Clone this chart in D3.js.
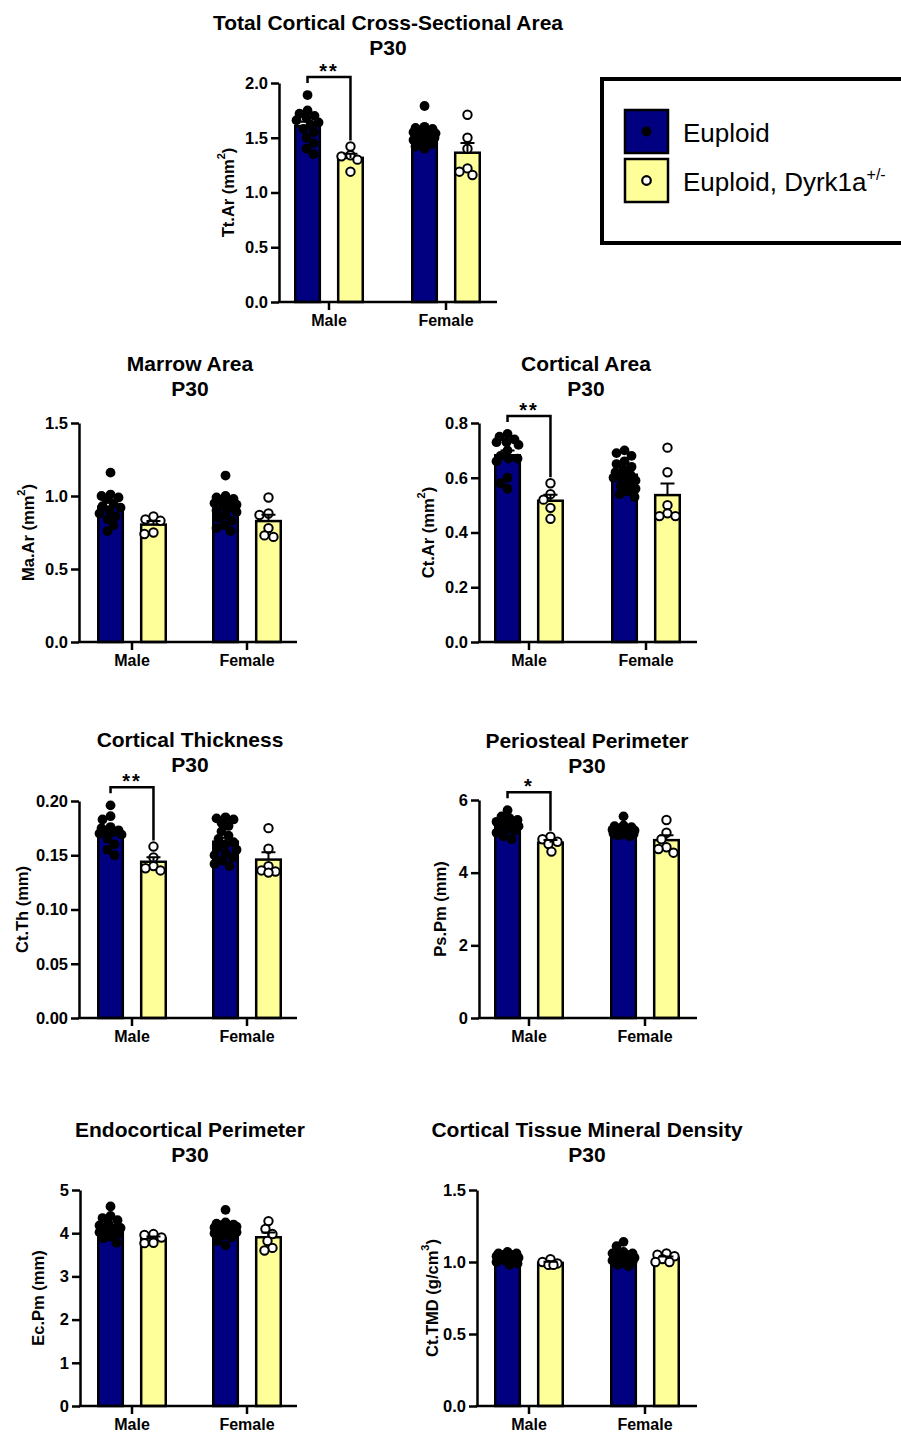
<!DOCTYPE html>
<html>
<head>
<meta charset="utf-8">
<script src="https://cdn.jsdelivr.net/npm/d3@7"></script>
<style>
  body { margin: 0; background: #fff; }
  svg { display: block; font-family: "Liberation Sans", Arial, sans-serif; }
</style>
</head>
<body>
<svg id="chart" width="901" height="1434"></svg>
<script>
const sexes = ['Male', 'Female'];
const genotypes = ['Euploid', 'Euploid, Dyrk1a'];

// Tt.Ar (mm2)
const ttArMaleEu = [1.89, 1.75, 1.72, 1.70, 1.68, 1.66, 1.64, 1.62, 1.58, 1.55, 1.50, 1.45, 1.40, 1.35];
const ttArMaleDyrk = [1.42, 1.34, 1.33, 1.30, 1.19];
const ttArFemaleEu = [1.79, 1.60, 1.59, 1.58, 1.57, 1.56, 1.55, 1.54, 1.53, 1.52, 1.51, 1.50, 1.49, 1.48, 1.46, 1.44, 1.42, 1.40];
const ttArFemaleDyrk = [1.71, 1.50, 1.40, 1.22, 1.19, 1.16];
const ttArTicks = [0, 0.5, 1.0, 1.5, 2.0];

// Ma.Ar (mm2)
const maArMaleEu = [1.16, 1.01, 1.00, 0.99, 0.98, 0.95, 0.93, 0.92, 0.90, 0.88, 0.86, 0.84, 0.80, 0.76];
const maArMaleDyrk = [0.86, 0.84, 0.83, 0.75, 0.74];
const maArFemaleEu = [1.14, 1.00, 0.99, 0.98, 0.97, 0.96, 0.95, 0.94, 0.93, 0.92, 0.90, 0.89, 0.87, 0.85, 0.83, 0.80, 0.78, 0.76];
const maArFemaleDyrk = [0.99, 0.88, 0.87, 0.78, 0.73, 0.72];
const maArTicks = [0, 0.5, 1.0, 1.5];

// Ct.Ar (mm2)
const ctArMaleEu = [0.76, 0.75, 0.74, 0.73, 0.73, 0.72, 0.70, 0.68, 0.67, 0.67, 0.66, 0.60, 0.58, 0.56];
const ctArMaleDyrk = [0.58, 0.54, 0.52, 0.49, 0.45];
const ctArFemaleEu = [0.70, 0.69, 0.68, 0.66, 0.65, 0.64, 0.63, 0.62, 0.61, 0.60, 0.60, 0.59, 0.58, 0.57, 0.56, 0.55, 0.54, 0.53];
const ctArFemaleDyrk = [0.71, 0.62, 0.50, 0.47, 0.46, 0.46];
const ctArTicks = [0, 0.2, 0.4, 0.6, 0.8];

// Ct.Th (mm)
const ctThMaleEu = [0.196, 0.186, 0.183, 0.176, 0.175, 0.173, 0.172, 0.171, 0.170, 0.169, 0.165, 0.160, 0.155, 0.150];
const ctThMaleDyrk = [0.158, 0.148, 0.140, 0.138, 0.136];
const ctThFemaleEu = [0.185, 0.184, 0.183, 0.180, 0.177, 0.172, 0.168, 0.165, 0.162, 0.160, 0.157, 0.155, 0.152, 0.150, 0.148, 0.145, 0.142, 0.140];
const ctThFemaleDyrk = [0.175, 0.156, 0.140, 0.136, 0.135, 0.134];
const ctThTicks = [0, 0.05, 0.10, 0.15, 0.20];

// Ps.Pm (mm)
const psPmMaleEu = [5.72, 5.55, 5.50, 5.45, 5.40, 5.35, 5.30, 5.28, 5.25, 5.20, 5.15, 5.10, 5.00, 4.92];
const psPmMaleDyrk = [4.99, 4.92, 4.85, 4.79, 4.58];
const psPmFemaleEu = [5.55, 5.30, 5.28, 5.25, 5.22, 5.20, 5.18, 5.16, 5.15, 5.14, 5.13, 5.12, 5.10, 5.08, 5.06, 5.05, 5.03, 5.00];
const psPmFemaleDyrk = [5.45, 5.10, 4.92, 4.70, 4.65, 4.55];
const psPmTicks = [0, 2, 4, 6];

// Ec.Pm (mm)
const ecPmMaleEu = [4.62, 4.40, 4.35, 4.30, 4.22, 4.18, 4.12, 4.10, 4.06, 4.02, 3.98, 3.92, 3.88, 3.78];
const ecPmMaleDyrk = [3.98, 3.96, 3.90, 3.78, 3.77];
const ecPmFemaleEu = [4.54, 4.25, 4.22, 4.20, 4.18, 4.16, 4.15, 4.13, 4.11, 4.10, 4.08, 4.05, 4.02, 4.00, 3.95, 3.90, 3.82, 3.72];
const ecPmFemaleDyrk = [4.28, 4.10, 3.98, 3.82, 3.66, 3.60];
const ecPmTicks = [0, 1, 2, 3, 4, 5];

// Ct.TMD (g/cm3)
const ctTmdMaleEu = [1.07, 1.06, 1.06, 1.05, 1.05, 1.04, 1.04, 1.03, 1.03, 1.02, 1.01, 1.00, 0.99, 0.98];
const ctTmdMaleDyrk = [1.02, 1.00, 0.99, 0.98, 0.98];
const ctTmdFemaleEu = [1.14, 1.11, 1.07, 1.06, 1.06, 1.05, 1.05, 1.04, 1.04, 1.03, 1.03, 1.02, 1.02, 1.01, 1.00, 0.99, 0.98, 0.97];
const ctTmdFemaleDyrk = [1.06, 1.05, 1.04, 1.02, 1.00, 1.00];
const ctTmdTicks = [0, 0.5, 1.0, 1.5];

const NAVY = '#000080';
const YELLOW = '#ffff99';
const FILLS = [NAVY, YELLOW];

const panels = [
  { title: 'Total Cortical Cross-Sectional Area', yLabel: ['Tt.Ar (mm', '2', ')'],
    data: [[ttArMaleEu, ttArMaleDyrk], [ttArFemaleEu, ttArFemaleDyrk]], ticks: ttArTicks, fmt: '.1f', sig: '**',
    axisX: 279, yTop: 83, y0: 302, maleX: 329, femaleX: 446, xEnd: 497, titleX: 388, titleY: 30, yLabelX: 228 },
  { title: 'Marrow Area', yLabel: ['Ma.Ar (mm', '2', ')'],
    data: [[maArMaleEu, maArMaleDyrk], [maArFemaleEu, maArFemaleDyrk]], ticks: maArTicks, fmt: '.1f', sig: '',
    axisX: 79, yTop: 423, y0: 642, maleX: 132, femaleX: 247, xEnd: 297, titleX: 190, titleY: 371, yLabelX: 28 },
  { title: 'Cortical Area', yLabel: ['Ct.Ar (mm', '2', ')'],
    data: [[ctArMaleEu, ctArMaleDyrk], [ctArFemaleEu, ctArFemaleDyrk]], ticks: ctArTicks, fmt: '.1f', sig: '**',
    axisX: 479, yTop: 423, y0: 642, maleX: 529, femaleX: 646, xEnd: 697, titleX: 586, titleY: 371, yLabelX: 428 },
  { title: 'Cortical Thickness', yLabel: ['Ct.Th (mm)'],
    data: [[ctThMaleEu, ctThMaleDyrk], [ctThFemaleEu, ctThFemaleDyrk]], ticks: ctThTicks, fmt: '.2f', sig: '**',
    axisX: 79, yTop: 801, y0: 1018, maleX: 132, femaleX: 247, xEnd: 297, titleX: 190, titleY: 747, yLabelX: 22 },
  { title: 'Periosteal Perimeter', yLabel: ['Ps.Pm (mm)'],
    data: [[psPmMaleEu, psPmMaleDyrk], [psPmFemaleEu, psPmFemaleDyrk]], ticks: psPmTicks, fmt: 'd', sig: '*',
    axisX: 479, yTop: 800, y0: 1018, maleX: 529, femaleX: 645, xEnd: 697, titleX: 587, titleY: 748, yLabelX: 440 },
  { title: 'Endocortical Perimeter', yLabel: ['Ec.Pm (mm)'],
    data: [[ecPmMaleEu, ecPmMaleDyrk], [ecPmFemaleEu, ecPmFemaleDyrk]], ticks: ecPmTicks, fmt: 'd', sig: '',
    axisX: 80, yTop: 1190, y0: 1406, maleX: 132, femaleX: 247, xEnd: 297, titleX: 190, titleY: 1137, yLabelX: 38 },
  { title: 'Cortical Tissue Mineral Density', yLabel: ['Ct.TMD (g/cm', '3', ')'],
    data: [[ctTmdMaleEu, ctTmdMaleDyrk], [ctTmdFemaleEu, ctTmdFemaleDyrk]], ticks: ctTmdTicks, fmt: '.1f', sig: '',
    axisX: 477, yTop: 1190, y0: 1406, maleX: 529, femaleX: 645, xEnd: 697, titleX: 587, titleY: 1137, yLabelX: 432 },
];

const svg = d3.select('#chart');

function stats(v) {
  return { mean: d3.mean(v), sem: d3.deviation(v) / Math.sqrt(v.length) };
}

// simple deterministic beeswarm: highest values first, nearest free spot to the centre
function swarm(values, y, r, maxOff) {
  const placed = [];
  const sorted = values.slice().sort((a, b) => b - a);
  sorted.forEach(v => {
    const py = y(v);
    let best = 0, bestDist = -1;
    for (let k = 0; k <= maxOff * 2; k++) {
      const off = (k % 2 === 0 ? 1 : -1) * Math.ceil(k / 2);
      if (Math.abs(off) > maxOff) continue;
      let minD = Infinity;
      placed.forEach(p => {
        minD = Math.min(minD, Math.hypot(p.dx - off, p.y - py));
      });
      if (minD >= 2 * r * 0.85) { best = off; bestDist = Infinity; break; }
      if (minD > bestDist) { bestDist = minD; best = off; }
    }
    placed.push({ v, y: py, dx: best });
  });
  return placed;
}

function drawPanel(p) {
  const g = svg.append('g').attr('class', 'panel');

  const y = d3.scaleLinear()
    .domain([0, d3.max(p.ticks)])
    .range([p.y0, p.yTop]);

  const step = p.femaleX - p.maleX;
  const x = d3.scaleBand()
    .domain(sexes)
    .range([p.maleX - step / 2, p.femaleX + step / 2]);

  const xSub = d3.scaleBand()
    .domain(genotypes)
    .range([-35, 35])
    .paddingInner(0.37);

  const cx = (s, gt) => x(s) + x.bandwidth() / 2 + xSub(gt) + xSub.bandwidth() / 2;

  // titles
  g.append('text')
      .attr('x', p.titleX).attr('y', p.titleY)
      .attr('text-anchor', 'middle')
      .attr('font-size', 21).attr('font-weight', 'bold')
      .text(p.title);
  g.append('text')
      .attr('x', p.titleX).attr('y', p.titleY + 25)
      .attr('text-anchor', 'middle')
      .attr('font-size', 21).attr('font-weight', 'bold')
      .text('P30');

  // bars
  sexes.forEach((s, i) => {
    genotypes.forEach((gt, j) => {
      const st = stats(p.data[i][j]);
      g.append('rect')
          .attr('x', cx(s, gt) - xSub.bandwidth() / 2 + 1.25)
          .attr('width', xSub.bandwidth() - 2.5)
          .attr('y', y(st.mean))
          .attr('height', y(0) - y(st.mean))
          .attr('fill', FILLS[j])
          .attr('stroke', 'black')
          .attr('stroke-width', 2.5);
    });
  });

  // points
  sexes.forEach((s, i) => {
    genotypes.forEach((gt, j) => {
      const c = cx(s, gt);
      const pts = swarm(p.data[i][j], y, 4.8, xSub.bandwidth() / 2 - 2.5);
      g.selectAll(null)
        .data(pts)
        .enter()
        .append('circle')
          .attr('cx', d => c + d.dx)
          .attr('cy', d => d.y)
          .attr('r', j === 0 ? 4.9 : 4.2)
          .attr('fill', j === 0 ? 'black' : 'white')
          .attr('stroke', 'black')
          .attr('stroke-width', j === 0 ? 0 : 2);
    });
  });

  // error bars (SEM, upward)
  sexes.forEach((s, i) => {
    genotypes.forEach((gt, j) => {
      const st = stats(p.data[i][j]);
      const c = cx(s, gt);
      g.append('path')
          .attr('d', `M${c},${y(st.mean)}V${y(st.mean + st.sem)}M${c - 7},${y(st.mean + st.sem)}H${c + 7}`)
          .attr('stroke', 'black')
          .attr('stroke-width', 2)
          .attr('fill', 'none');
    });
  });

  // y axis
  const yAxis = d3.axisLeft(y)
    .tickValues(p.ticks)
    .tickFormat(d3.format(p.fmt))
    .tickSize(8)
    .tickSizeOuter(0)
    .tickPadding(3);

  const ya = g.append('g')
      .attr('transform', 'translate(' + p.axisX + ',0)')
      .call(yAxis);
  ya.selectAll('path, line').attr('stroke', 'black').attr('stroke-width', 2.5);
  ya.selectAll('text')
      .attr('font-size', 16.5).attr('font-weight', 'bold').attr('fill', 'black')
      .attr('font-family', '"Liberation Sans", Arial, sans-serif');

  // x axis
  g.append('line')
      .attr('x1', p.axisX - 1.25).attr('x2', p.xEnd)
      .attr('y1', p.y0).attr('y2', p.y0)
      .attr('stroke', 'black').attr('stroke-width', 2.5);

  const xAxis = d3.axisBottom(x).tickSize(8).tickSizeOuter(0).tickPadding(5);
  const xa = g.append('g')
      .attr('transform', 'translate(0,' + p.y0 + ')')
      .call(xAxis);
  xa.select('.domain').remove();
  xa.selectAll('line').attr('stroke', 'black').attr('stroke-width', 2.5);
  xa.selectAll('text')
      .attr('font-size', 16).attr('font-weight', 'bold').attr('fill', 'black')
      .attr('font-family', '"Liberation Sans", Arial, sans-serif');

  // y label
  const yl = g.append('text')
      .attr('transform', 'translate(' + p.yLabelX + ',' + ((p.y0 + p.yTop) / 2) + ') rotate(-90)')
      .attr('text-anchor', 'middle')
      .attr('dominant-baseline', 'central')
      .attr('font-size', 16.5).attr('font-weight', 'bold');
  yl.append('tspan').text(p.yLabel[0]);
  if (p.yLabel.length > 1) {
    yl.append('tspan').attr('dy', -7).attr('font-size', 11).text(p.yLabel[1]);
    yl.append('tspan').attr('dy', 7).text(p.yLabel[2]);
  }

  // significance bracket
  if (p.sig) {
    const ex = cx('Male', genotypes[0]);
    const dx = cx('Male', genotypes[1]);
    const stD = stats(p.data[0][1]);
    const top = y(d3.max(p.data[0][0])) - 18;
    const rightEnd = Math.min(y(d3.max(p.data[0][1])), y(stD.mean + stD.sem)) - 6;
    g.append('path')
        .attr('d', `M${ex},${top + 6}V${top}H${dx}V${rightEnd}`)
        .attr('fill', 'none')
        .attr('stroke', 'black')
        .attr('stroke-width', 2.5);
    g.append('text')
        .attr('x', (ex + dx) / 2).attr('y', top + 1)
        .attr('text-anchor', 'middle')
        .attr('font-size', 20).attr('font-weight', 'bold')
        .attr('letter-spacing', 2)
        .text(p.sig);
  }
}

panels.forEach(drawPanel);

// legend
const legend = svg.append('g').attr('class', 'legend');
legend.append('rect')
    .attr('x', 602).attr('y', 79)
    .attr('width', 330).attr('height', 164)
    .attr('fill', 'none')
    .attr('stroke', 'black')
    .attr('stroke-width', 4);

const item = legend.selectAll('.legend-item')
    .data(genotypes)
  .enter()
  .append('g')
    .attr('class', 'legend-item')
    .attr('transform', (d, i) => 'translate(625,' + (110 + i * 49) + ')');

item.append('rect')
    .attr('width', 43).attr('height', 43)
    .attr('fill', (d, i) => FILLS[i])
    .attr('stroke', 'black')
    .attr('stroke-width', 2.5);

item.append('circle')
    .attr('cx', 21.5).attr('cy', 21.5)
    .attr('r', (d, i) => i === 0 ? 5 : 4.3)
    .attr('fill', (d, i) => i === 0 ? 'black' : 'white')
    .attr('stroke', 'black')
    .attr('stroke-width', (d, i) => i === 0 ? 0 : 2.2);

const lt = item.append('text')
    .attr('x', 58).attr('y', 32)
    .attr('font-size', 26);
lt.append('tspan').text(d => d);
lt.filter((d, i) => i === 1)
  .append('tspan')
    .attr('dy', -11).attr('font-size', 16)
    .text('+/-');
</script>
</body>
</html>
